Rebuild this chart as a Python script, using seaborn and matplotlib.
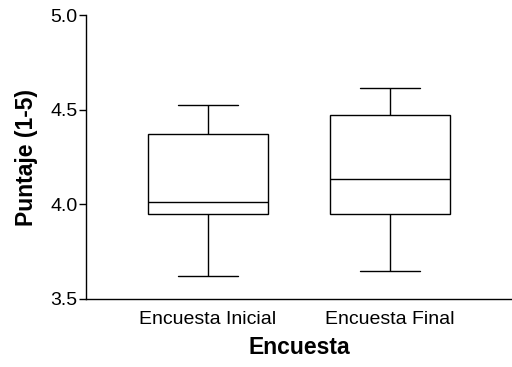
import matplotlib
matplotlib.use("Agg")
import matplotlib.pyplot as plt
import seaborn as sns
import pandas as pd
import numpy as np

categories = ["Encuesta Inicial", "Encuesta Final"]
# five-number summaries: min, Q1, median, Q3, max
inicial = [3.618, 3.949, 4.014, 4.370, 4.528]
final = [3.645, 3.949, 4.131, 4.470, 4.617]
yticks = [3.5, 4.0, 4.5, 5.0]

df = pd.DataFrame({
    "Encuesta": [categories[0]] * len(inicial) + [categories[1]] * len(final),
    "Puntaje": inicial + final,
})

sns.set_style("ticks")
plt.rcParams["font.family"] = ["Liberation Sans", "DejaVu Sans"]
plt.rcParams["text.color"] = "black"
plt.rcParams["axes.labelcolor"] = "black"

fig = plt.figure(figsize=(5.12, 3.67), dpi=100)
ax = fig.add_axes([0.1686, 0.1866, 0.8314, 0.7712])

lw = 1.0
sns.boxplot(data=df, x="Encuesta", y="Puntaje", order=categories, whis=np.inf,
            width=0.66, color="white", linecolor="black", linewidth=lw,
            fliersize=0, ax=ax,
            boxprops=dict(facecolor="white", edgecolor="black", linewidth=lw),
            whiskerprops=dict(color="black", linewidth=lw),
            capprops=dict(color="black", linewidth=lw),
            medianprops=dict(color="black", linewidth=lw))

ax.set_ylim(3.5, 5.0)
ax.set_xlim(-0.666, 1.669)
ax.set_yticks(yticks)
ax.set_yticklabels([f"{v:.1f}" for v in yticks])
sns.despine(ax=ax)
for s in ["left", "bottom"]:
    ax.spines[s].set_linewidth(1.0)
    ax.spines[s].set_color("black")
ax.tick_params(axis="y", length=5, width=1.0, pad=1.5, labelsize=14, colors="black")
ax.tick_params(axis="x", length=0, pad=9, labelsize=14, colors="black")
ax.set_xlabel("Encuesta", fontsize=16.5, fontweight="bold", labelpad=6, color="black")
ax.set_ylabel("Puntaje (1-5)", fontsize=16.5, fontweight="bold", labelpad=9, color="black")

fig.savefig("out.png", dpi=100)
